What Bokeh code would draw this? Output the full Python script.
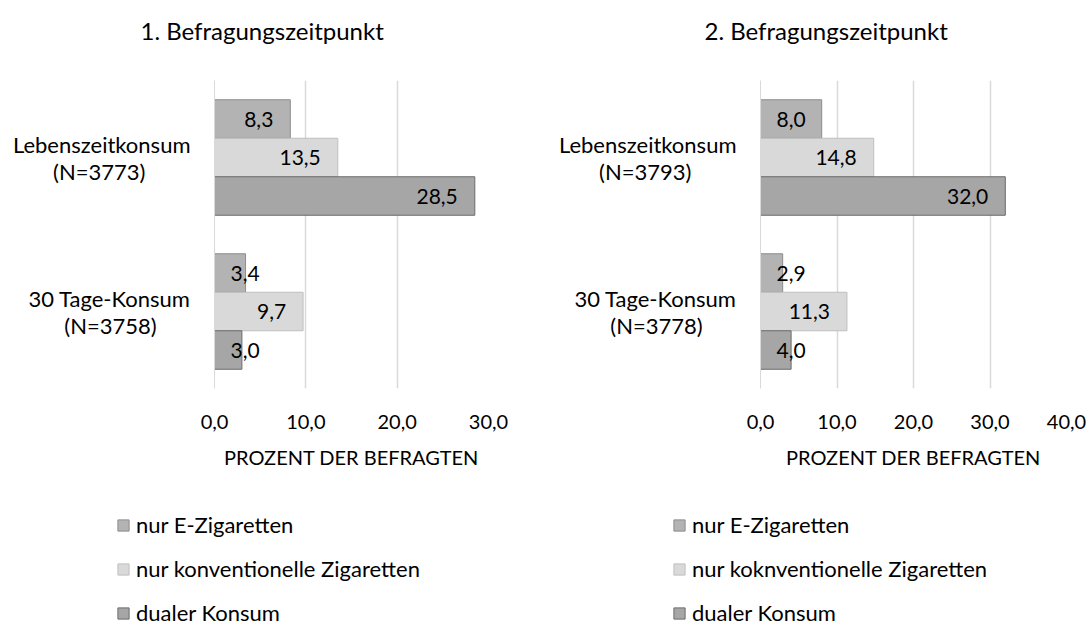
from bokeh.plotting import figure
from bokeh.models import (Range1d, FactorRange, FixedTicker, CustomJSTickFormatter,
                          ColumnDataSource, Title, Legend, LegendItem)
from bokeh.transform import dodge
from bokeh.layouts import row, column
from bokeh.core.properties import value
from bokeh.embed import file_html
from bokeh.resources import INLINE

# ---------------- data ----------------
categories = ["Lebenszeitkonsum", "30 Tage-Konsum"]
n_left = ["N=3773", "N=3758"]
n_right = ["N=3793", "N=3778"]
series_left = ["nur E-Zigaretten", "nur konventionelle Zigaretten", "dualer Konsum"]
series_right = ["nur E-Zigaretten", "nur koknventionelle Zigaretten", "dualer Konsum"]
e_left = [8.3, 3.4]
k_left = [13.5, 9.7]
d_left = [28.5, 3.0]
e_right = [8.0, 2.9]
k_right = [14.8, 11.3]
d_right = [32.0, 4.0]
ticks_left = [0, 10, 20, 30]
ticks_right = [0, 10, 20, 30, 40]
titles = ["1. Befragungszeitpunkt", "2. Befragungszeitpunkt"]
axis_title = "PROZENT DER BEFRAGTEN"

# ---------------- style ----------------
FONT = "Lato"
fills = ["#b3b3b3", "#d9d9d9", "#a6a6a6"]
lines = ["#8c8c8c", "#bfbfbf", "#6b6b6b"]
offsets = [0.25, 0.0, -0.25]
pads = [8, 6]            # non-breaking spaces that centre the 2nd label line
W = 545
H_MAIN = 505
H_LEG = 121
TOP, BOTTOM = 80, 117
NAN = float("nan")
NBSP = "\u00a0"


def fmt(v):
    return f"{v:.1f}".replace(".", ",")


def make_chart(title, ns, vals, ticks, bl, br, title_dx):
    xmax = ticks[-1]
    frame_w = W - bl - br
    cats = [f"{c}\n({n})" + NBSP * k for c, n, k in zip(categories, ns, pads)]
    p = figure(width=W, height=H_MAIN, output_backend="svg", toolbar_location=None,
               y_range=FactorRange(factors=cats[::-1]),
               x_range=Range1d(0, xmax),
               min_border_left=bl, min_border_right=br,
               min_border_top=TOP, min_border_bottom=BOTTOM,
               outline_line_color=None)
    p.add_layout(Title(text=title + "\n ", align="left", offset=title_dx, standoff=14,
                       text_font=FONT, text_font_size="24px", text_font_style="normal",
                       text_color="#000000"), "above")

    ya = p.yaxis[0]
    ya.axis_line_color = "#d9d9d9"
    ya.major_tick_line_color = None
    ya.minor_tick_line_color = None
    ya.major_tick_out = 0
    ya.major_label_standoff = 24
    ya.major_label_text_font = FONT
    ya.major_label_text_font_size = "22px"
    ya.major_label_text_color = "#000000"
    ya.major_label_text_line_height = 1.0
    p.ygrid.visible = False

    xa = p.xaxis[0]
    xa.ticker = FixedTicker(ticks=ticks)
    xa.formatter = CustomJSTickFormatter(code="return tick.toFixed(1).replace('.', ',');")
    xa.axis_line_color = None
    xa.major_tick_line_color = None
    xa.minor_tick_line_color = None
    xa.major_label_text_font = FONT
    xa.major_label_text_font_size = "20px"
    xa.major_label_text_color = "#000000"
    xa.major_label_standoff = 20
    xa.axis_label = axis_title
    xa.axis_label_text_font = FONT
    xa.axis_label_text_font_style = "normal"
    xa.axis_label_text_font_size = "20px"
    xa.axis_label_text_color = "#000000"
    xa.axis_label_standoff = 13
    p.xgrid.ticker = FixedTicker(ticks=ticks)
    p.xgrid.grid_line_color = "#d9d9d9"
    p.xgrid.grid_line_width = 1.5

    ppu = frame_w / xmax
    for i in range(3):
        src = ColumnDataSource(dict(cat=cats, val=vals[i]))
        p.hbar(y=dodge("cat", offsets[i], range=p.y_range), right="val", left=0,
               height=0.25, source=src, fill_color=fills[i], line_color=lines[i],
               line_width=1)
        # value labels: inside end, or kept at the bar start if the bar is too short
        right_c, right_v, left_c, left_v = [], [], [], []
        for c, v in zip(cats, vals[i]):
            if v * ppu < 64:
                left_c.append(c)
                left_v.append(v)
            else:
                right_c.append(c)
                right_v.append(v)
        if right_c:
            s = ColumnDataSource(dict(cat=right_c, val=right_v, lab=[fmt(v) for v in right_v]))
            p.text(x="val", y=dodge("cat", offsets[i], range=p.y_range), text="lab", source=s,
                   text_align="right", text_baseline="middle", x_offset=-17,
                   text_font=value(FONT), text_font_size="21px", text_color="#000000")
        if left_c:
            s = ColumnDataSource(dict(cat=left_c, zero=[0] * len(left_c),
                                      lab=[fmt(v) for v in left_v]))
            p.text(x="zero", y=dodge("cat", offsets[i], range=p.y_range), text="lab", source=s,
                   text_align="left", text_baseline="middle", x_offset=16,
                   text_font=value(FONT), text_font_size="21px", text_color="#000000")
    return p


def make_legend(series, x_pos):
    q = figure(width=W, height=H_LEG, output_backend="svg", toolbar_location=None,
               x_range=Range1d(0, 1), y_range=Range1d(0, 1),
               x_axis_location=None, y_axis_location=None,
               min_border=0, outline_line_color=None)
    q.grid.visible = False
    items = []
    for i in range(3):
        # legend proxy: one undefined (NaN) bar, so nothing is drawn in the frame
        r = q.hbar(y=[NAN], right=[NAN], left=[NAN], height=0.25, fill_color=fills[i],
                   line_color=lines[i], line_width=1)
        items.append(LegendItem(label=series[i], renderers=[r]))
    legend = Legend(items=items, location=(x_pos, 0), orientation="vertical",
                    glyph_width=14, glyph_height=14, label_standoff=6, label_height=27,
                    spacing=17, padding=0, margin=0, border_line_color=None,
                    background_fill_alpha=0, label_text_font=FONT,
                    label_text_font_size="22px", label_text_color="#000000")
    q.add_layout(legend)
    return q


p1 = make_chart(titles[0], n_left, [e_left, k_left, d_left], ticks_left, 214, 57, -74)
p2 = make_chart(titles[1], n_right, [e_right, k_right, d_right], ticks_right, 215, 24, -56)
l1 = make_legend(series_left, 116)
l2 = make_legend(series_right, 127)

layout = column(row(p1, p2), row(l1, l2))
open("out.html", "w").write(file_html(layout, INLINE))
